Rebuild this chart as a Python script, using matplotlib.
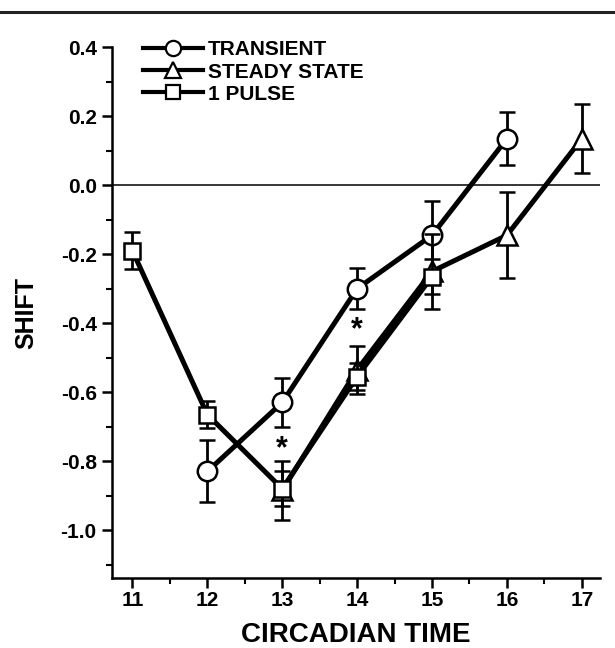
import matplotlib
matplotlib.use('Agg')
import matplotlib.pyplot as plt
from matplotlib.lines import Line2D
from matplotlib.ticker import MultipleLocator

plt.rcParams['font.family'] = ['Liberation Sans', 'DejaVu Sans']
plt.rcParams['font.weight'] = 'bold'

# circadian time of each point
ct_transient = [12, 13, 14, 15, 16]
ct_steady = [13, 14, 15, 16, 17]
ct_pulse = [11, 12, 13, 14, 15]

# phase shift and SEM
shift_transient = [-0.83, -0.63, -0.30, -0.145, 0.135]
err_transient = [0.09, 0.07, 0.06, 0.10, 0.077]
shift_steady = [-0.885, -0.535, -0.25, -0.145, 0.135]
err_steady = [0.085, 0.07, 0.11, 0.125, 0.10]
shift_pulse = [-0.19, -0.665, -0.88, -0.555, -0.265]
err_pulse = [0.053, 0.038, 0.05, 0.04, 0.05]

# significance marks
star_x = [13, 14]
star_y = [-0.765, -0.42]

fig = plt.figure(figsize=(6.15, 6.48), dpi=100)
ax = fig.add_axes([0.182, 0.108, 0.794, 0.819])

common = dict(color='black', lw=3.6, capsize=6, elinewidth=2, capthick=2,
              mfc='white', mec='black', mew=1.8)
ax.errorbar(ct_transient, shift_transient, yerr=err_transient, marker='o',
            ms=14, zorder=3, **common)
ax.errorbar(ct_steady, shift_steady, yerr=err_steady, marker='^',
            ms=14, zorder=4, **common)
ax.errorbar(ct_pulse, shift_pulse, yerr=err_pulse, marker='s',
            ms=11.5, zorder=5, **common)

for x, y in zip(star_x, star_y):
    ax.text(x, y, '*', ha='center', va='center', fontsize=22, fontweight='bold')

ax.axhline(0, color='black', lw=1.1, zorder=1)

ax.set_xlim(10.726, 17.246)
ax.set_ylim(-1.139, 0.4)
ax.xaxis.set_major_locator(MultipleLocator(1))
ax.xaxis.set_minor_locator(MultipleLocator(0.5))
ax.yaxis.set_minor_locator(MultipleLocator(0.1))
ax.set_yticks([-1.0, -0.8, -0.6, -0.4, -0.2, 0.0, 0.2, 0.4])
ax.set_yticklabels(['-1.0', '-0.8', '-0.6', '-0.4', '-0.2', '0.0', '0.2', '0.4'])

for s in ['top', 'right']:
    ax.spines[s].set_visible(False)
for s in ['left', 'bottom']:
    ax.spines[s].set_linewidth(1.8)

ax.tick_params(which='major', direction='out', length=7, width=1.8,
               labelsize=15, pad=4)
ax.tick_params(which='minor', direction='out', length=4, width=1.5)
ax.tick_params(axis='x', which='major', pad=2)

ax.set_xlabel('CIRCADIAN TIME', fontsize=20, fontweight='bold', labelpad=9)
ax.set_ylabel('SHIFT', fontsize=18, fontweight='bold', labelpad=16)

handles = [
    Line2D([], [], color='black', lw=3, marker='o', ms=11, mfc='white', mew=1.6),
    Line2D([], [], color='black', lw=3, marker='^', ms=11, mfc='white', mew=1.6),
    Line2D([], [], color='black', lw=3, marker='s', ms=9.5, mfc='white', mew=1.6),
]
labels = ['TRANSIENT', 'STEADY STATE', '1 PULSE']
ax.legend(handles, labels, loc='upper left', bbox_to_anchor=(0.0635, 1.013),
          frameon=False, fontsize=15, handlelength=2.9, handletextpad=0.2,
          borderpad=0, borderaxespad=0, labelspacing=0.15)

fig.add_artist(Line2D([0, 1], [0.9815, 0.9815], color='#222222', lw=2.2,
                      transform=fig.transFigure))

fig.savefig('out.png', dpi=100)
